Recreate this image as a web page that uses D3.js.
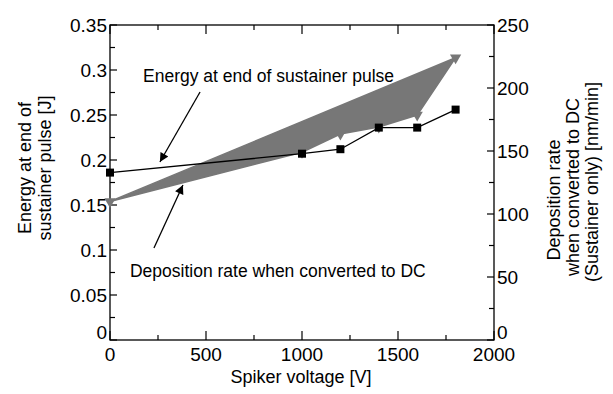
<!DOCTYPE html>
<html><head><meta charset="utf-8">
<script src="https://cdn.jsdelivr.net/npm/d3@7"></script>
<style>body{margin:0;background:#fff}svg{display:block}text{font-family:"Liberation Sans",Arial,sans-serif;fill:#000}</style>
</head><body><svg id="c" width="613" height="394"></svg>
<script>
const voltage = [0, 1000, 1200, 1400, 1600, 1800];
const energy = [0.186, 0.207, 0.212, 0.236, 0.236, 0.256];
const depRateVoltage = [0, 1000, 1200, 1400, 1600, 1800];
const depRate = [110, 149, 163.5, 169, 178.5, 224];
const xTicks = [0, 500, 1000, 1500, 2000];
const yLeftTicks = [0, 0.05, 0.1, 0.15, 0.2, 0.25, 0.3, 0.35];
const yRightTicks = [0, 50, 100, 150, 200, 250];
const annotations = [
  {text: "Energy at end of sustainer pulse", x: 172, y: 0.2867, tail: [469, 0.2756], tip: [260, 0.1978]},
  {text: "Deposition rate when converted to DC", x: 104, y: 0.0703, tail: [229, 0.1022], tip: [380, 0.1722]}
];

const svg = d3.select("#c");
const L = 110, R = 494, T = 25, B = 340;
const x = d3.scaleLinear().domain([0, 2000]).range([L, R]);
const yL = d3.scaleLinear().domain([0, 0.35]).range([B, T]);
const yR = d3.scaleLinear().domain([0, 250]).range([B, T]);

const defs = svg.append("defs");
defs.append("marker").attr("id", "ah").attr("viewBox", "0 0 10 10").attr("refX", 10).attr("refY", 5)
  .attr("markerWidth", 14).attr("markerHeight", 9).attr("markerUnits", "userSpaceOnUse").attr("orient", "auto")
  .append("path").attr("d", "M0,0 L10,5 L0,10 Z").attr("fill", "#000");

// frame
svg.append("rect").attr("x", L).attr("y", T).attr("width", R - L).attr("height", B - T)
  .attr("fill", "none").attr("stroke", "#000").attr("stroke-width", 1.3);

// ticks (inward)
const g = svg.append("g").attr("stroke", "#000").attr("stroke-width", 1.2);
d3.range(0, 2001, 250).forEach(v => {
  const len = v % 500 === 0 ? 9 : 5;
  g.append("line").attr("x1", x(v)).attr("x2", x(v)).attr("y1", B).attr("y2", B - len);
  g.append("line").attr("x1", x(v)).attr("x2", x(v)).attr("y1", T).attr("y2", T + len);
});
d3.range(0, 0.3501, 0.025).forEach((v, i) => {
  const len = i % 2 === 0 ? 7 : 5;
  g.append("line").attr("x1", L).attr("x2", L + len).attr("y1", yL(v)).attr("y2", yL(v));
});
d3.range(0, 251, 25).forEach((v, i) => {
  const len = i % 2 === 0 ? 7 : 5;
  g.append("line").attr("x1", R).attr("x2", R - len).attr("y1", yR(v)).attr("y2", yR(v));
});

// tick labels
const fs = 19;
svg.append("g").selectAll("text").data(xTicks).join("text")
  .attr("x", d => x(d)).attr("y", B + 21).attr("text-anchor", "middle").attr("font-size", fs).text(d => d);
svg.append("g").selectAll("text").data(yLeftTicks).join("text")
  .attr("x", L - 3).attr("y", d => yL(d)).attr("dy", d => d === 0 ? "-0.05em" : "0.35em").attr("text-anchor", "end")
  .attr("font-size", fs).text(d => d);
svg.append("g").selectAll("text").data(yRightTicks).join("text")
  .attr("x", R + 3).attr("y", d => yR(d)).attr("dy", d => d === 0 ? "-0.05em" : "0.35em").attr("text-anchor", "start")
  .attr("font-size", fs).text(d => d);

// axis titles
svg.append("text").attr("x", 301).attr("y", 383).attr("text-anchor", "middle").attr("font-size", 18).text("Spiker voltage [V]");
[["Energy at end of", 25, 168], ["sustainer pulse [J]", 45, 168]].forEach(([t, cx, cy]) => {
  svg.append("text").attr("transform", `translate(${cx},${cy}) rotate(-90)`).attr("dy", "0.35em")
    .attr("text-anchor", "middle").attr("font-size", 18).text(t);
});
[["Deposition rate", 554, 200], ["when converted to DC", 573, 187], ["(Sustainer only) [nm/min]", 592, 182]].forEach(([t, cx, cy]) => {
  svg.append("text").attr("transform", `translate(${cx},${cy}) rotate(-90)`).attr("dy", "0.35em")
    .attr("text-anchor", "middle").attr("font-size", 18).text(t);
});

// gray series (filled polygon of line)
const grayPts = depRateVoltage.map((v, i) => [x(v), yR(depRate[i])]);
svg.append("path").attr("d", d3.line()(grayPts) + "Z").attr("fill", "#777").attr("stroke", "#777").attr("stroke-width", 1.5);
const tri = d3.symbol().type(d3.symbolTriangle).size(55);
svg.append("g").selectAll("path").data(grayPts).join("path")
  .attr("transform", d => `translate(${d[0]},${d[1]}) rotate(180)`).attr("d", tri).attr("fill", "#777");

// black series
const blackPts = voltage.map((v, i) => [x(v), yL(energy[i])]);
svg.append("path").attr("d", d3.line()(blackPts)).attr("fill", "none").attr("stroke", "#000").attr("stroke-width", 1.3);
svg.append("g").selectAll("rect").data(blackPts).join("rect")
  .attr("x", d => d[0] - 4).attr("y", d => d[1] - 4).attr("width", 8).attr("height", 8).attr("fill", "#000");

// annotations
annotations.forEach(a => {
  svg.append("text").attr("x", x(a.x)).attr("y", yL(a.y)).attr("font-size", 17.5).text(a.text);
  svg.append("line").attr("x1", x(a.tail[0])).attr("y1", yL(a.tail[1])).attr("x2", x(a.tip[0])).attr("y2", yL(a.tip[1]))
    .attr("stroke", "#000").attr("stroke-width", 1.3).attr("marker-end", "url(#ah)");
});
</script></body></html>
